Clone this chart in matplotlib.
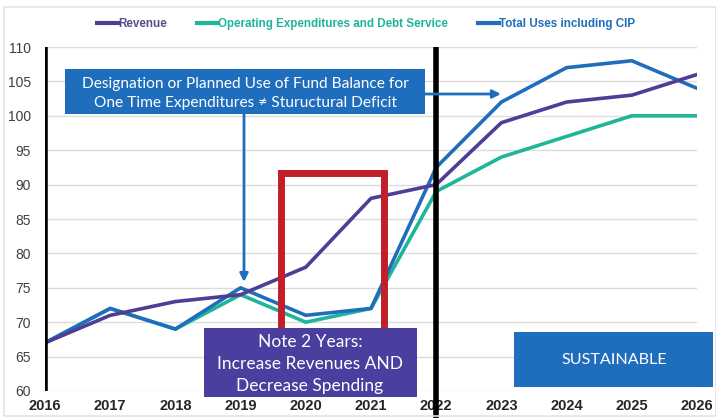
import matplotlib.pyplot as plt
from matplotlib.patches import Rectangle
from matplotlib.lines import Line2D

years = [2016, 2017, 2018, 2019, 2020, 2021, 2022, 2023, 2024, 2025, 2026]
revenue = [67, 71, 73, 74, 78, 88, 90, 99, 102, 103, 106]
opex_debt = [67, 72, 69, 74, 70, 72, 89, 94, 97, 100, 100]
total_uses = [67, 72, 69, 75, 71, 72, 92.5, 102, 107, 108, 104]
yticks = [60, 65, 70, 75, 80, 85, 90, 95, 100, 105, 110]

purple = "#4f3d96"
teal = "#1fb59b"
blue = "#1f6ebd"

W, H = 716, 418


def fx(px):
    return px / W


def fy(py):
    return 1 - py / H


fig = plt.figure(figsize=(7.16, 4.18), dpi=100)
ax = fig.add_axes([fx(45), fy(391), fx(697) - fx(45), fy(47) - fy(391)])

ax.plot(years, opex_debt, color=teal, lw=2.6, label="Operating Expenditures and Debt Service", zorder=3)
ax.plot(years, total_uses, color=blue, lw=2.6, label="Total Uses including CIP", zorder=4)
ax.plot(years, revenue, color=purple, lw=2.6, label="Revenue", zorder=5)

ax.set_xlim(2016, 2026)
ax.set_ylim(60, 110)
ax.set_yticks(yticks)
ax.set_xticks(years)
ax.grid(axis="y", color="#dcdcdc", lw=1)
ax.set_axisbelow(True)
for s in ax.spines.values():
    s.set_visible(False)
ax.tick_params(length=0)
ax.tick_params(axis="y", pad=10, labelsize=10, labelcolor="#404040")
ax.tick_params(axis="x", pad=6, labelsize=10.5, labelcolor="#262626")
for lab in ax.get_xticklabels():
    lab.set_fontfamily(["Liberation Sans", "DejaVu Sans"])
    lab.set_fontweight("bold")
for lab in ax.get_yticklabels():
    lab.set_fontfamily(["Liberation Sans", "DejaVu Sans"])

# heavy black markers at the start year and 2022
ax.plot([2016, 2016], [60, 110], color="black", lw=4, zorder=6, solid_capstyle="butt")
ax.plot([2022, 2022], [55.5, 110], color="black", lw=4, zorder=6, solid_capstyle="butt", clip_on=False)

# legend
handles = [Line2D([], [], color=purple, lw=3),
           Line2D([], [], color=teal, lw=3),
           Line2D([], [], color=blue, lw=3)]
labels = ["Revenue", "Operating Expenditures and Debt Service", "Total Uses including CIP"]
leg = fig.legend(handles, labels, loc="center", bbox_to_anchor=(fx(366), fy(24)), ncol=3,
                 frameon=False, handlelength=1.8, handletextpad=0.0, columnspacing=2.6,
                 prop={"family": ["Liberation Sans", "DejaVu Sans"], "weight": "bold", "size": 8.4})
for t, c in zip(leg.get_texts(), ["#5a4c8c", teal, blue]):
    t.set_color(c)

# red highlight around 2020-2021
fig.patches.append(Rectangle((fx(281), fy(331)), fx(384) - fx(281), fy(173) - fy(331),
                             transform=fig.transFigure, fill=False, ec="#c21f2a", lw=5, zorder=7))

box_font = ["Lato", "DejaVu Sans"]

# fund balance note
fig.patches.append(Rectangle((fx(65), fy(114)), fx(425) - fx(65), fy(69) - fy(114),
                             transform=fig.transFigure, fc=blue, ec="none", zorder=8))
fig.text(fx(245), fy(84), "Designation or Planned Use of Fund Balance for", color="white",
         ha="center", va="center", fontsize=11.2, family=box_font, zorder=9)
fig.text(fx(245), fy(103), "One Time Expenditures \u2260 Stuructural Deficit", color="white",
         ha="center", va="center", fontsize=11.2, family=box_font, zorder=9)
fig.add_artist(plt.Annotation("", xy=(fx(244), fy(282)), xytext=(fx(244), fy(114)),
                              xycoords="figure fraction", textcoords="figure fraction",
                              arrowprops=dict(arrowstyle="-|>", color=blue, lw=2, mutation_scale=12,
                                              shrinkA=0, shrinkB=0)))
fig.add_artist(plt.Annotation("", xy=(fx(501), fy(94)), xytext=(fx(425), fy(94)),
                              xycoords="figure fraction", textcoords="figure fraction",
                              arrowprops=dict(arrowstyle="-|>", color=blue, lw=2, mutation_scale=12,
                                              shrinkA=0, shrinkB=0)))

# two-year note
fig.patches.append(Rectangle((fx(204), fy(397)), fx(417) - fx(204), fy(328) - fy(397),
                             transform=fig.transFigure, fc="#4a3f9e", ec="none", zorder=8))
for py, line in zip([342, 364, 386], ["Note 2 Years:", "Increase Revenues AND", "Decrease Spending"]):
    fig.text(fx(310), fy(py), line, color="white", ha="center", va="center",
             fontsize=12.5, family=box_font, zorder=9)

# sustainable tag
fig.patches.append(Rectangle((fx(514), fy(387)), fx(713) - fx(514), fy(332) - fy(387),
                             transform=fig.transFigure, fc=blue, ec="none", zorder=8))
fig.text(fx(614), fy(360), "SUSTAINABLE", color="white", ha="center", va="center",
         fontsize=11.6, family=box_font, zorder=9)

# thin outer frame
fig.patches.append(Rectangle((fx(4), fy(416)), fx(716) - fx(4), fy(7) - fy(416),
                             transform=fig.transFigure, fill=False, ec="#dde6ee", lw=1.2))

fig.savefig("out.png", dpi=100)
